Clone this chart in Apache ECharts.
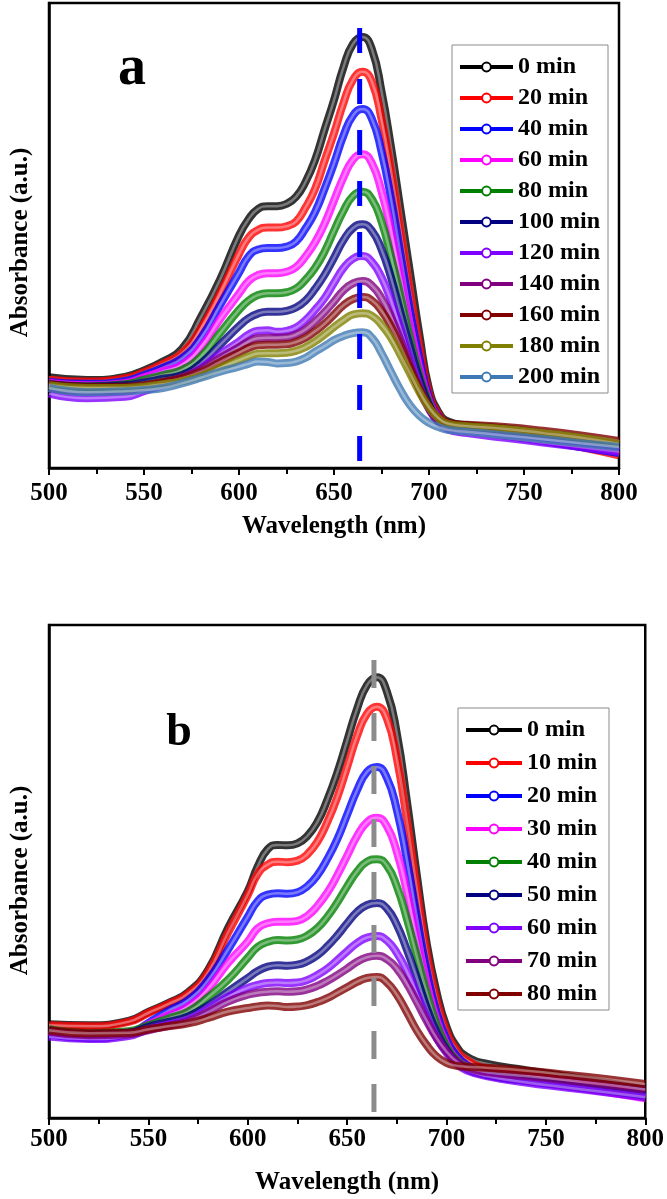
<!DOCTYPE html>
<html><head><meta charset="utf-8">
<script src="https://cdn.jsdelivr.net/npm/echarts/dist/echarts.min.js"></script>
<style>html,body{margin:0;padding:0;background:#fff}#c{width:667px;height:1199px}</style>
</head><body><div id="c"></div>
<script>
// ---------- data ----------
const wavelengths = [500,520,540,550,560,570,580,590,600,605,610,615,620,625,630,635,640,645,650,655,660,665,670,675,680,685,690,695,700,705,710,720,740,760,780,800];
const xTicks = [500,550,600,650,700,750,800];
const peakWavelength = 663.5;

const timesA = ['0 min','20 min','40 min','60 min','80 min','100 min','120 min','140 min','160 min','180 min','200 min'];
const a0   = [0.195,0.189,0.196,0.21,0.229,0.256,0.325,0.405,0.50,0.535, 0.557,0.563,0.563,0.568,0.583,0.615,0.662,0.727,0.791,0.862, 0.912,0.927,0.90,0.81,0.69,0.555,0.42,0.285,0.17,0.12, 0.10,0.092,0.085,0.075,0.065,0.05];
const a20  = [0.19,0.186,0.193,0.206,0.224,0.247,0.30,0.375,0.46,0.495, 0.512,0.517,0.517,0.52,0.53,0.56,0.60,0.66,0.72,0.785, 0.835,0.852,0.83,0.75,0.64,0.51,0.38,0.26,0.16,0.115, 0.095,0.085,0.072,0.06,0.045,0.027];
const a40  = [0.185,0.181,0.187,0.2,0.216,0.236,0.28,0.35,0.42,0.455, 0.47,0.473,0.473,0.476,0.487,0.515,0.55,0.60,0.655,0.715, 0.758,0.772,0.75,0.68,0.58,0.46,0.34,0.235,0.15,0.11, 0.092,0.082,0.07,0.058,0.045,0.032];
const a60  = [0.183,0.178,0.183,0.195,0.208,0.222,0.26,0.32,0.375,0.402, 0.415,0.419,0.419,0.422,0.432,0.455,0.485,0.525,0.575,0.625, 0.663,0.675,0.655,0.595,0.51,0.41,0.305,0.215,0.145,0.108, 0.09,0.082,0.07,0.06,0.05,0.037];
const a80  = [0.18,0.176,0.18,0.19,0.2,0.211,0.24,0.29,0.34,0.36, 0.372,0.376,0.376,0.378,0.386,0.405,0.43,0.465,0.51,0.553, 0.585,0.594,0.578,0.53,0.455,0.37,0.28,0.2,0.14,0.105, 0.09,0.083,0.072,0.062,0.052,0.04];
const a100 = [0.18,0.175,0.178,0.184,0.192,0.2,0.225,0.265,0.305,0.322, 0.332,0.336,0.336,0.338,0.345,0.36,0.385,0.415,0.452,0.49, 0.516,0.524,0.51,0.47,0.41,0.335,0.26,0.19,0.135,0.103, 0.088,0.082,0.073,0.063,0.052,0.04];
const a120 = [0.16,0.15,0.153,0.165,0.178,0.192,0.215,0.245,0.272,0.287, 0.295,0.296,0.293,0.295,0.302,0.318,0.34,0.365,0.398,0.43, 0.45,0.456,0.443,0.41,0.36,0.30,0.235,0.175,0.128,0.098, 0.083,0.075,0.065,0.055,0.045,0.035];
const a140 = [0.172,0.166,0.168,0.175,0.184,0.195,0.212,0.237,0.26,0.272, 0.279,0.28,0.28,0.281,0.287,0.298,0.315,0.335,0.358,0.382, 0.397,0.402,0.392,0.365,0.325,0.275,0.22,0.168,0.127,0.10, 0.088,0.085,0.08,0.072,0.062,0.052];
const a160 = [0.18,0.174,0.175,0.178,0.185,0.193,0.207,0.228,0.248,0.258, 0.264,0.265,0.265,0.266,0.271,0.28,0.294,0.31,0.33,0.35, 0.363,0.368,0.36,0.338,0.305,0.262,0.215,0.17,0.133,0.108, 0.097,0.093,0.088,0.08,0.07,0.058];
const a180 = [0.178,0.172,0.172,0.175,0.18,0.187,0.198,0.215,0.232,0.24, 0.246,0.247,0.247,0.248,0.252,0.26,0.272,0.287,0.303,0.318, 0.33,0.333,0.327,0.308,0.28,0.243,0.203,0.163,0.13,0.107, 0.095,0.09,0.084,0.075,0.065,0.052];
const a200 = [0.172,0.163,0.165,0.168,0.172,0.182,0.194,0.207,0.218,0.224, 0.229,0.228,0.225,0.226,0.229,0.237,0.25,0.262,0.275,0.284, 0.29,0.292,0.28,0.247,0.207,0.168,0.135,0.112,0.097,0.088, 0.082,0.078,0.07,0.062,0.053,0.045];

const timesB = ['0 min','10 min','20 min','30 min','40 min','50 min','60 min','70 min','80 min'];
const b0  = [0.19,0.188,0.197,0.215,0.233,0.255,0.30,0.385,0.46,0.51, 0.545,0.554,0.553,0.557,0.572,0.60,0.645,0.70,0.765,0.83, 0.878,0.894,0.865,0.78,0.645,0.495,0.355,0.255,0.185,0.145, 0.125,0.11,0.097,0.085,0.072,0.058];
const b10 = [0.188,0.186,0.195,0.213,0.231,0.252,0.295,0.375,0.452,0.495, 0.514,0.52,0.519,0.522,0.535,0.56,0.60,0.65,0.712,0.775, 0.82,0.834,0.81,0.73,0.605,0.465,0.335,0.24,0.175,0.138, 0.118,0.10,0.088,0.075,0.062,0.048];
const b20 = [0.17,0.162,0.17,0.193,0.217,0.239,0.28,0.341,0.408,0.44, 0.453,0.456,0.455,0.458,0.47,0.492,0.525,0.565,0.615,0.665, 0.702,0.712,0.69,0.625,0.525,0.41,0.30,0.215,0.16,0.127, 0.108,0.088,0.075,0.065,0.055,0.045];
const b30 = [0.175,0.168,0.173,0.19,0.208,0.226,0.262,0.314,0.358,0.385, 0.395,0.398,0.398,0.40,0.41,0.43,0.457,0.492,0.532,0.572, 0.60,0.609,0.592,0.54,0.46,0.365,0.275,0.20,0.15,0.12, 0.105,0.09,0.077,0.065,0.053,0.04];
const b40 = [0.18,0.172,0.176,0.188,0.202,0.216,0.245,0.28,0.325,0.347, 0.357,0.361,0.36,0.362,0.37,0.385,0.408,0.437,0.47,0.50, 0.52,0.525,0.512,0.47,0.405,0.33,0.255,0.19,0.145,0.118, 0.104,0.09,0.078,0.067,0.056,0.045];
const b50 = [0.178,0.17,0.173,0.185,0.195,0.206,0.228,0.256,0.284,0.298, 0.307,0.31,0.309,0.311,0.318,0.33,0.348,0.37,0.395,0.418, 0.432,0.436,0.425,0.392,0.342,0.285,0.225,0.175,0.138,0.114, 0.10,0.087,0.076,0.066,0.056,0.046];
const b60 = [0.165,0.16,0.166,0.18,0.19,0.20,0.222,0.246,0.264,0.27, 0.274,0.275,0.274,0.275,0.28,0.29,0.303,0.32,0.338,0.355, 0.366,0.369,0.36,0.335,0.298,0.253,0.205,0.163,0.132,0.11, 0.097,0.085,0.072,0.062,0.052,0.042];
const b70 = [0.175,0.168,0.17,0.178,0.187,0.196,0.215,0.236,0.25,0.254, 0.256,0.257,0.256,0.257,0.261,0.268,0.278,0.29,0.303,0.317, 0.326,0.329,0.322,0.303,0.273,0.236,0.197,0.162,0.135,0.115, 0.103,0.093,0.085,0.077,0.068,0.058];
const b80 = [0.178,0.172,0.173,0.18,0.186,0.192,0.203,0.216,0.223,0.226, 0.228,0.227,0.225,0.226,0.229,0.235,0.243,0.254,0.265,0.276, 0.284,0.286,0.275,0.25,0.215,0.178,0.148,0.125,0.112,0.106, 0.104,0.102,0.096,0.088,0.079,0.069];

const valuesA = [a0,a20,a40,a60,a80,a100,a120,a140,a160,a180,a200];
const valuesB = [b0,b10,b20,b30,b40,b50,b60,b70,b80];

// ---------- styles ----------
const colorsA = ['#000000','#ff0000','#0000ff','#ff00ff','#008000','#000080','#8000ff','#800080','#800000','#808000','#3f79b3'];
const colorsB = ['#000000','#ff0000','#0000ff','#ff00ff','#008000','#000080','#8000ff','#800080','#800000'];
const FONT = 'Liberation Serif';

const chart = echarts.init(document.getElementById('c'), null, {renderer:'canvas'});

function xAxis(gi, labelMargin, nameGap) {
  return {
    type:'value', gridIndex:gi, min:500, max:800, interval:50,
    axisLine:{show:true, onZero:false, lineStyle:{color:'#000', width:2.5}},
    axisTick:{show:true, inside:false, length:7, lineStyle:{color:'#000', width:2}},
    minorTick:{show:true, splitNumber:2, length:6, lineStyle:{color:'#000', width:2}},
    splitLine:{show:false}, minorSplitLine:{show:false},
    axisLabel:{margin:labelMargin, color:'#000', fontFamily:FONT, fontWeight:'bold', fontSize:25,
      formatter: v => xTicks.includes(v) ? String(v) : ''},
    name:'Wavelength (nm)', nameLocation:'middle', nameGap:nameGap,
    nameTextStyle:{color:'#000', fontFamily:FONT, fontWeight:'bold', fontSize:25}
  };
}
function yAxis(gi, nameGap, pad) {
  return {
    type:'value', gridIndex:gi, min:0, max:1,
    axisLine:{show:true, onZero:false, lineStyle:{color:'#000', width:2.5}},
    axisTick:{show:false}, axisLabel:{show:false}, splitLine:{show:false},
    name:'Absorbance (a.u.)', nameLocation:'middle', nameGap:nameGap, nameRotate:90,
    nameTextStyle:{color:'#000', fontFamily:FONT, fontWeight:'bold', fontSize:25, padding:pad}
  };
}

// each curve: a coloured band (the ring markers) and a faint light core on top of it
function curveSeries(prefix, names, values, colors, axisIdx) {
  const out = [];
  names.forEach((n, k) => {
    const pts = wavelengths.map((w, i) => [w, values[k][i]]);
    out.push({
      type:'line', name: prefix + n, xAxisIndex:axisIdx, yAxisIndex:axisIdx,
      data: pts, smooth:0.5,
      symbol:'emptyCircle', showSymbol:false,
      lineStyle:{color:colors[k], width:8, opacity:0.8},
      itemStyle:{color:colors[k]},
      emphasis:{disabled:true}, silent:true, z:2
    });
    out.push({
      type:'line', xAxisIndex:axisIdx, yAxisIndex:axisIdx,
      data: pts, smooth:0.5, symbol:'none',
      lineStyle:{color:'#ffffff', width:2.5, opacity:0.35},
      emphasis:{disabled:true}, silent:true, z:2
    });
  });
  return out;
}

function peakSeries(axisIdx, top, bottom, color, dash, offX) {
  return [{
    type:'line', xAxisIndex:axisIdx, yAxisIndex:axisIdx,
    data:[[peakWavelength, top],[peakWavelength, bottom]],
    symbol:'none', lineStyle:{color:color, width:5, type:dash},
    silent:true, z:5
  },{
    type:'scatter', xAxisIndex:axisIdx, yAxisIndex:axisIdx,
    data:[[peakWavelength, top]], symbolSize:1, itemStyle:{opacity:0},
    label:{show:true, position:'top', distance:0, offset:[offX,0],
      formatter: () => peakWavelength + ' nm',
      color:'#000', fontFamily:FONT, fontWeight:'bold', fontSize:24},
    silent:true, z:6
  }];
}

function legend(prefix, names, left, top, gap, iw, pad) {
  return {
    show:true, orient:'vertical', left:left, top:top,
    data: names.map(n => prefix + n),
    formatter: n => n.slice(prefix.length),
    itemWidth:iw, itemHeight:11, itemGap:gap, padding:pad,
    borderColor:'#8a8a8a', borderWidth:1, backgroundColor:'#fff',
    selectedMode:false,
    lineStyle:{width:4, opacity:1},
    textStyle:{color:'#000', fontFamily:FONT, fontWeight:'bold', fontSize:24}
  };
}

const option = {
  animation:false,
  backgroundColor:'#fff',
  grid:[
    {left:46, top:3, width:573, height:465, show:true, borderColor:'#000', borderWidth:2.5, containLabel:false},
    {left:40, top:625, width:608, height:493, show:true, borderColor:'#000', borderWidth:2.5, containLabel:false}
  ],
  xAxis:[xAxis(0, 13, 46), xAxis(1, 9, 52)],
  yAxis:[yAxis(0, 16, [0,14,0,0]), yAxis(1, 16, [0,18,0,0])],
  legend:[
    legend('a:', timesA, 452, 45, 7, 53, [10,8,4,6]),
    legend('b:', timesB, 458, 708, 9, 56, [10,12,4,6])
  ],
  graphic:[
    {type:'text', x:132, y:70, style:{text:'a', font:'bold 56px "Liberation Serif"', fill:'#000', textAlign:'center', textVerticalAlign:'middle'}},
    {type:'text', x:179, y:733, style:{text:'b', font:'bold 46px "Liberation Serif"', fill:'#000', textAlign:'center', textVerticalAlign:'middle'}}
  ],
  series:[
    ...curveSeries('a:', timesA, valuesA, colorsA, 0),
    ...curveSeries('b:', timesB, valuesB, colorsB, 1),
    ...peakSeries(0, 0.946, 0.011, '#0000ff', [25,26], 14),
    ...peakSeries(1, 0.929, 0.0, '#8c8c8c', [28,25], 15)
  ]
};
chart.setOption(option);
</script></body></html>
